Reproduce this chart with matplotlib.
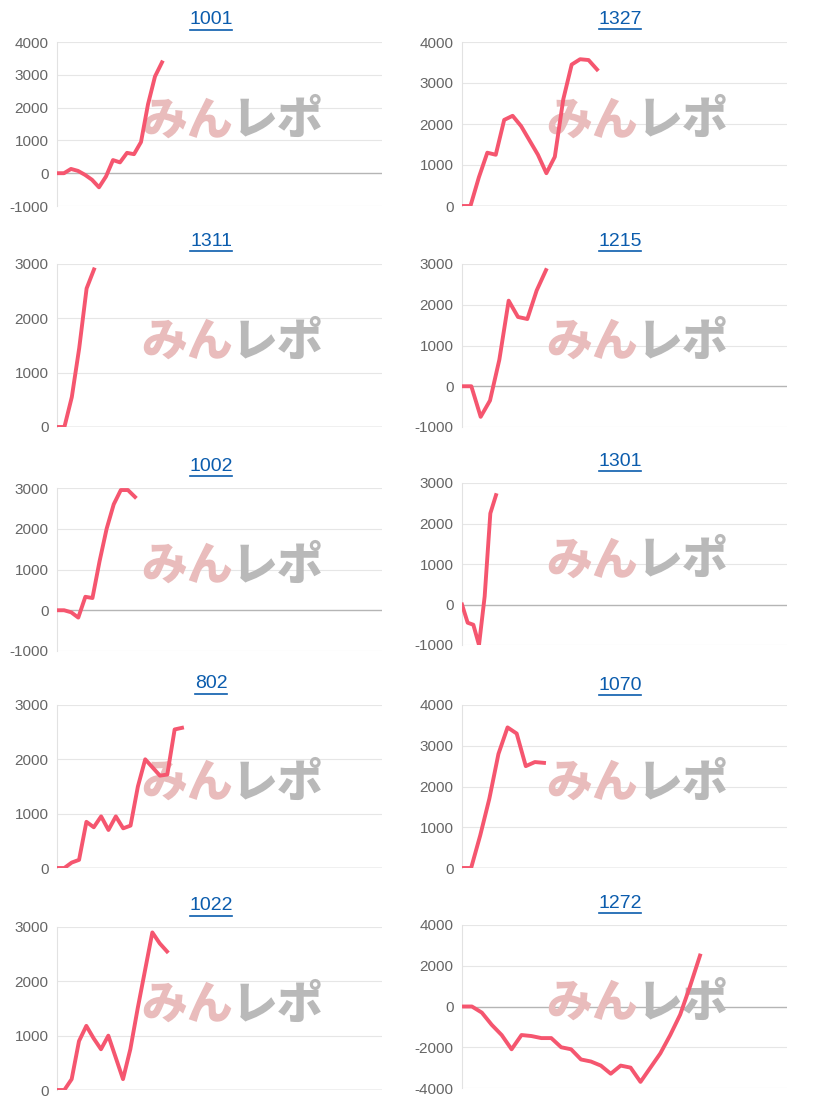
import matplotlib
matplotlib.use("Agg")
import matplotlib.pyplot as plt
import numpy as np

plt.rcParams['axes.unicode_minus'] = False
plt.rcParams['font.family'] = ['Liberation Sans', 'DejaVu Sans']

titles = ["1001", "1327", "1311", "1215", "1002", "1301", "802", "1070", "1022", "1272"]
s1001 = [0, 0, 130, 70, -50, -200, -430, -100, 400, 330, 620, 580, 950, 2100, 2950, 3380]
s1327 = [0, 0, 700, 1300, 1250, 2100, 2200, 1950, 1600, 1250, 800, 1200, 2600, 3450, 3580, 3560, 3330]
s1311 = [0, 0, 550, 1450, 2550, 2900]
s1215 = [0, 0, -750, -350, 650, 2100, 1700, 1650, 2350, 2850]
s1002 = [0, 0, -50, -180, 330, 300, 1200, 2000, 2600, 2950, 2950, 2780]
s1301 = [0, -450, -500, -1000, 200, 2250, 2700]
s802 = [0, 0, 100, 150, 850, 750, 950, 700, 950, 730, 780, 1500, 2000, 1850, 1700, 1720, 2550, 2580]
s1070 = [0, 0, 800, 1700, 2800, 3450, 3300, 2500, 2600, 2580]
s1022 = [0, 0, 200, 900, 1180, 950, 750, 1000, 600, 200, 750, 1500, 2200, 2900, 2700, 2550]
s1272 = [0, 0, -300, -900, -1400, -2100, -1400, -1450, -1550, -1550, -2000, -2100, -2600,
         -2700, -2900, -3300, -2900, -3000, -3700, -3000, -2300, -1400, -400, 1000, 2500]
series = [s1001, s1327, s1311, s1215, s1002, s1301, s802, s1070, s1022, s1272]
yticks = [range(-1000, 4001, 1000), range(0, 4001, 1000), range(0, 3001, 1000),
          range(-1000, 3001, 1000), range(-1000, 3001, 1000), range(-1000, 3001, 1000),
          range(0, 3001, 1000), range(0, 4001, 1000), range(0, 3001, 1000),
          range(-4000, 4001, 2000)]
span_px = [105, 135, 37, 84, 78, 34, 125, 82, 110, 238]

W, H = 814, 1105
fig = plt.figure(figsize=(W / 100, H / 100), dpi=100)
tops = [42, 264, 488, 705, 927]
bots = [206, 427, 651, 868, 1090]
tops_r = [42, 264, 483, 705, 925]
bots_r = [206, 427, 645, 868, 1088]
title_y = [20, 241, 466, 684, 906]
title_y_r = [19, 241, 461, 685, 903]
lefts = [57, 462]
width = 325
cjk = ["Noto Sans CJK JP", "DejaVu Sans"]

for i, (t, s) in enumerate(zip(titles, series)):
    r, c = divmod(i, 2)
    top = tops[r] if c == 0 else tops_r[r]
    bot = bots[r] if c == 0 else bots_r[r]
    ax = fig.add_axes([lefts[c] / W, 1 - bot / H, width / W, (bot - top) / H])
    n = len(s)
    slots = (n - 1) * width / span_px[i]
    ax.plot(range(n), s, color="#f5566f", lw=2.8, zorder=3)
    ax.set_xlim(0, slots)
    yt = list(yticks[i])
    ax.set_ylim(yt[0], yt[-1])
    ax.set_yticks(yt)
    ax.set_xticks([])
    ax.tick_params(axis="y", length=0, labelsize=11, labelcolor="#666666", pad=6)
    for sp in ["top", "right", "bottom"]:
        ax.spines[sp].set_visible(False)
    ax.spines["left"].set_color("#e2e2e2")
    for v in yt:
        ax.axhline(v, color="#b5b5b5" if v == 0 else "#e6e6e6", lw=1.0 if v == 0 else 0.8, zorder=1)
    ax.text(0.40, 0.52, "みん", transform=ax.transAxes, fontsize=33, fontweight="black",
            style="italic", color="#e9bcbc", ha="center", va="center", family=cjk, zorder=2)
    ax.text(0.68, 0.52, "レポ", transform=ax.transAxes, fontsize=33, fontweight="black",
            style="italic", color="#b9b9b9", ha="center", va="center", family=cjk, zorder=2)
    ty = title_y[r] if c == 0 else title_y_r[r]
    cx = [211, 620][c]
    fig.text(cx / W, 1 - ty / H, t, ha="center", va="center", fontsize=14, color="#0b5cad")
    tw = len(t) * 10.5
    fig.add_artist(plt.Line2D([(cx - tw / 2) / W, (cx + tw / 2) / W],
                              [1 - (ty + 10) / H] * 2, color="#0b5cad", lw=1.2))

fig.savefig("out.png", dpi=100)
